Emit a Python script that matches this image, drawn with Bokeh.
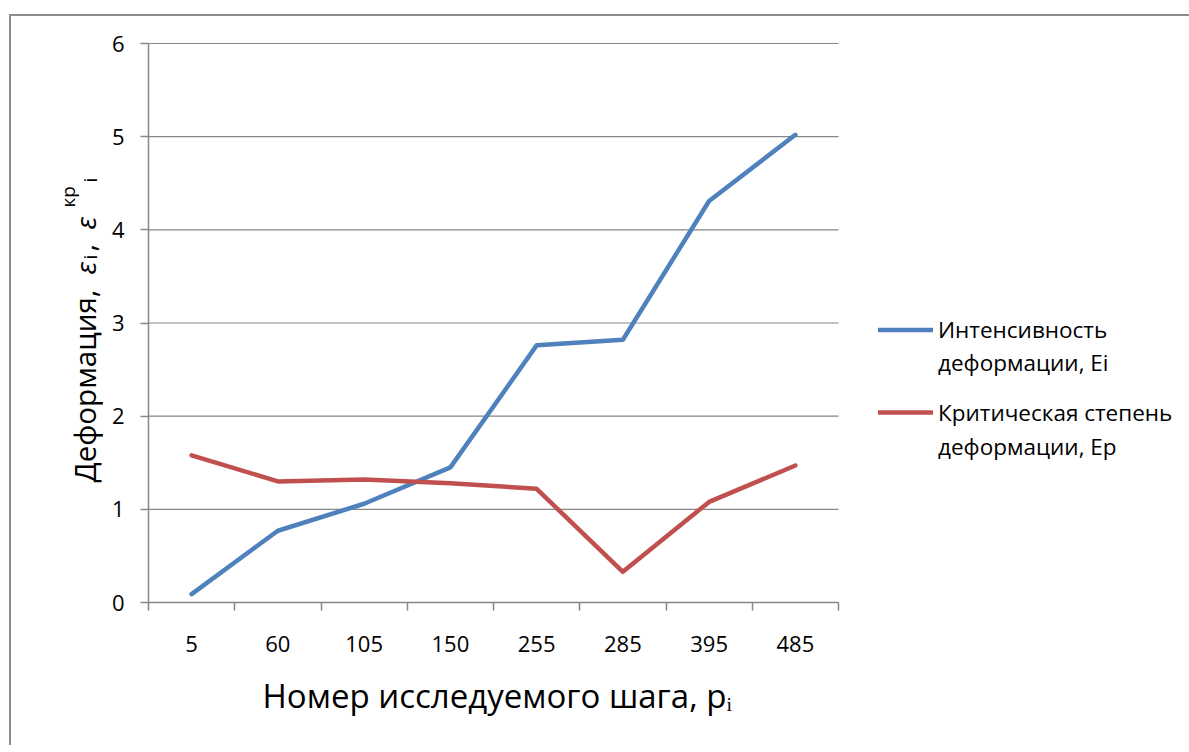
import math
from bokeh.plotting import figure
from bokeh.layouts import row
from bokeh.models import (Range1d, LinearAxis, FixedTicker, Label, Legend, LegendItem,
                          ColumnDataSource, Title)
from bokeh.embed import file_html
from bokeh.resources import INLINE

# ---- data ----
steps = ["5", "60", "105", "150", "255", "285", "395", "485"]
intensity = [0.09, 0.77, 1.06, 1.45, 2.76, 2.82, 4.31, 5.02]
critical = [1.58, 1.30, 1.32, 1.28, 1.22, 0.33, 1.08, 1.47]
y_ticks = [0, 1, 2, 3, 4, 5, 6]
legend_lines = ["Интенсивность", "деформации, Ei", "Критическая степень", "деформации, Ep"]
x_title = "Номер исследуемого шага, pᵢ"
y_title = "Деформация,"

FONT = "Open Sans"
GRAY = "#868686"
BLUE = "#4F81BD"
RED = "#C0504D"

NCAT = len(steps)
YMAX = 6
centers = [i + 0.5 for i in range(NCAT)]   # category slot centres
bounds = list(range(NCAT + 1))             # slot boundaries (tick marks)

# ---- layout (page pixels) ----
TOTAL_W, H = 1189, 745
LW = 103                      # width of the strip holding the y title
PL, PR = 148, 838             # plot-area left/right
PT, PB = 43, 602              # plot-area top (y=6) / bottom (y=0)
F_R, F_T = 1178, 20           # main frame right / top
XS = (PR - PL) / NCAT
YS = (PB - PT) / YMAX

def xd(px):
    return (px - PL) / XS

def yd(py):
    return (PB - py) / YS

# ---------- left strip: y-axis title with sub/superscripts ----------
# its frame spans page rows F_T..PB, data y == page y
left = figure(x_range=Range1d(0, LW), y_range=Range1d(PB, F_T), width=LW, height=H,
              min_border_left=0, min_border_right=0,
              min_border_top=F_T, min_border_bottom=H - PB,
              x_axis_location=None, y_axis_location=None,
              output_backend="svg", toolbar_location=None)
left.outline_line_color = None
left.background_fill_color = None
left.border_fill_color = None
for g in left.grid:
    g.visible = False

A = math.pi / 2
def ylab(text, px, py, size, style="normal"):
    left.add_layout(Label(x=px, y=py, text=text, angle=A, text_font=FONT,
                          text_font_size=size, text_font_style=style, text_align="left",
                          text_baseline="alphabetic", text_color="black"))

ylab(y_title, 84, 482, "29.5px")
ylab("ε", 84, 274, "28px", "italic")
ylab("i", 89, 259, "19px")
ylab(",", 84, 251, "29.5px")
ylab("ε", 84, 229, "28px", "italic")
ylab("кр", 67, 207, "19px")
ylab("i", 89, 182, "19px")

# ---------- main chart ----------
W2 = TOTAL_W - LW
p = figure(x_range=Range1d(0, xd(F_R)), y_range=Range1d(0, yd(F_T)),
           width=W2, height=H,
           min_border_left=PL - LW, min_border_right=TOTAL_W - F_R,
           min_border_top=F_T, min_border_bottom=H - PB,
           x_axis_location=None, y_axis_location=None,
           output_backend="svg", toolbar_location=None)
p.outline_line_color = None
p.background_fill_color = None
p.border_fill_color = None
for g in p.grid:
    g.visible = False

# horizontal gridlines across the plot area only
p.segment(x0=0, x1=NCAT, y0=y_ticks, y1=y_ticks, line_color=GRAY, line_width=1.2)

yax = LinearAxis(ticker=FixedTicker(ticks=y_ticks), bounds=(0, YMAX))
yax.axis_line_color = GRAY
yax.axis_line_width = 1.5
yax.major_tick_line_color = GRAY
yax.major_tick_line_width = 1.5
yax.major_tick_out = 8
yax.major_tick_in = 0
yax.minor_tick_line_color = None
yax.major_label_text_font = FONT
yax.major_label_text_font_size = "22px"
yax.major_label_text_color = "black"
yax.major_label_standoff = 16
p.add_layout(yax, "left")

# x axis: labels at slot centres, tick marks at slot boundaries
xax = LinearAxis(ticker=FixedTicker(ticks=centers, minor_ticks=bounds), bounds=(0, NCAT))
xax.major_label_overrides = {c: s for c, s in zip(centers, steps)}
xax.axis_line_color = GRAY
xax.axis_line_width = 1.5
xax.major_tick_line_color = None
xax.major_tick_out = 8
xax.major_tick_in = 0
xax.minor_tick_line_color = GRAY
xax.minor_tick_line_width = 1.5
xax.minor_tick_out = 8
xax.minor_tick_in = 0
xax.major_label_text_font = FONT
xax.major_label_text_font_size = "22px"
xax.major_label_text_color = "black"
xax.major_label_standoff = 25
p.add_layout(xax, "below")

p.add_layout(Title(text=x_title, align="left", offset=262 - PL, text_font=FONT,
                   text_font_size="33px", text_font_style="normal", text_color="black",
                   standoff=33), "below")

src = ColumnDataSource(dict(x=centers, intensity=intensity, critical=critical))
r1 = p.line("x", "intensity", source=src, line_color=BLUE, line_width=4.5,
            line_cap="round", line_join="round")
r2 = p.line("x", "critical", source=src, line_color=RED, line_width=4.5,
            line_cap="round", line_join="round")
blank = p.line("x", "critical", source=src, line_alpha=0)

def make_legend(items, top_px, lh):
    lg = Legend(items=items, location=(878 - PL, PB - (top_px + 2 * lh)),
                orientation="vertical")
    lg.padding = 0
    lg.margin = 0
    lg.spacing = 0
    lg.border_line_color = None
    lg.background_fill_alpha = 0
    lg.glyph_width = 55
    lg.glyph_height = lh
    lg.label_height = lh
    lg.label_standoff = 5
    lg.label_text_font = FONT
    lg.label_text_font_size = "22.5px"
    lg.label_text_color = "black"
    lg.click_policy = "none"
    return lg

p.add_layout(make_legend([LegendItem(label=legend_lines[0], renderers=[r1]),
                          LegendItem(label=legend_lines[1], renderers=[blank])], 313, 33))
p.add_layout(make_legend([LegendItem(label=legend_lines[2], renderers=[r2]),
                          LegendItem(label=legend_lines[3], renderers=[blank])], 395, 34))

layout = row(left, p, spacing=0)
layout.styles = {"background": "linear-gradient(#8c8c8c,#8c8c8c) 9px 14px / calc(100% - 9px) 2px no-repeat, "
                               "linear-gradient(#8c8c8c,#8c8c8c) 9px 14px / 2px calc(100% - 14px) no-repeat"}

open("out.html", "w").write(file_html(layout, INLINE))
